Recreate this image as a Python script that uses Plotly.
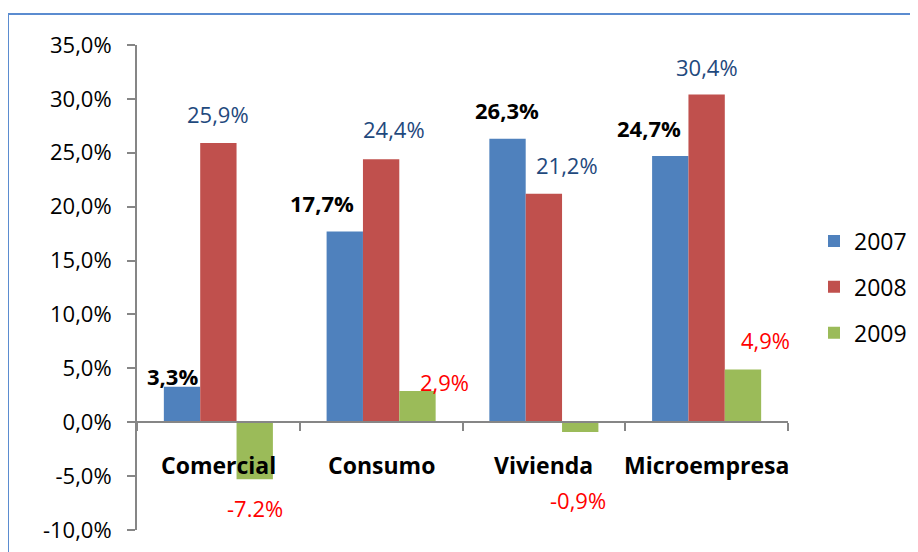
import plotly.graph_objects as go

categories = ["Comercial", "Consumo", "Vivienda", "Microempresa"]
years = ["2007", "2008", "2009"]
v2007 = [3.3, 17.7, 26.3, 24.7]
v2008 = [25.9, 24.4, 21.2, 30.4]
v2009 = [-5.3, 2.9, -0.9, 4.9]
lab2007 = ["3,3%", "17,7%", "26,3%", "24,7%"]
lab2008 = ["25,9%", "24,4%", "21,2%", "30,4%"]
lab2009 = ["-7.2%", "2,9%", "-0,9%", "4,9%"]
y_ticks = [-10, -5, 0, 5, 10, 15, 20, 25, 30, 35]
y_ticktext = [f"{v:.1f}".replace(".", ",") + "%" for v in y_ticks]

colors = ["#4F81BD", "#C0504D", "#9BBB59"]
FONT = "Open Sans"
FS = 22

# figure geometry (page adds an 8px body margin)
W, H = 910, 544
ML, MT = 129, 37
PW, PH = 651, 485
paper_w, paper_h = W - ML, H - MT

fig = go.Figure()
for i, (yr, vals) in enumerate(zip(years, [v2007, v2008, v2009])):
    fig.add_trace(go.Bar(x=categories, y=vals, name=yr, marker_color=colors[i],
                         marker_line_width=0, legendgroup=yr))

ymin, ymax = -10, 35
# data label offsets in pixels (xshift, yshift)
off2007 = [(-10, 11), (-23, 28), (-1, 29), (-21, 28)]
off2008 = [(0, 29), (13, 30), (23, 29), (0, 28)]
off2009 = [(0, -29), (27, 9), (-2, -68), (23, 29)]
bar_w = 1 / 3 * (1 - 0.33)
xs = {0: -bar_w, 1: 0, 2: bar_w}
for k, (labs, vals, offs, col, bold) in enumerate([
        (lab2007, v2007, off2007, "black", True),
        (lab2008, v2008, off2008, "#1F497D", False),
        (lab2009, v2009, off2009, "#FF0000", False)]):
    for j in range(4):
        txt = f"<b>{labs[j]}</b>" if bold else labs[j]
        fig.add_annotation(x=j + xs[k], y=vals[j], xref="x", yref="y", text=txt,
                           showarrow=False, xshift=offs[j][0], yshift=offs[j][1],
                           font=dict(family=FONT, size=FS, color=col))

for j, c in enumerate(categories):
    fig.add_annotation(x=j, y=-4, xref="x", yref="y", text=f"<b>{c}</b>",
                       showarrow=False, font=dict(family=FONT, size=23, color="black"))

# outer border (left/top visible, right/bottom beyond the page)
fig.add_shape(type="rect", xref="paper", yref="paper",
              x0=-ML / paper_w, x1=1.1, y0=-0.05, y1=(H - 6) / paper_h,
              line=dict(color="#5B8CD0", width=2), fillcolor="rgba(0,0,0,0)")

fig.update_layout(
    width=W, height=H,
    margin=dict(l=ML, r=0, t=MT, b=0, autoexpand=False),
    paper_bgcolor="white", plot_bgcolor="white",
    barmode="group", bargap=0.33, bargroupgap=0,
    font=dict(family=FONT, size=FS, color="black"),
    showlegend=True,
    legend=dict(x=(806 - ML) / paper_w, y=(552 - 287) / paper_h, yanchor="middle",
                xanchor="left", font=dict(family=FONT, size=23), tracegroupgap=13,
                bgcolor="rgba(0,0,0,0)"),
    xaxis=dict(type="category", range=[-0.5, 3.5], domain=[0, PW / paper_w],
               anchor="free", position=(H - MT - PH) / paper_h + PH / paper_h * (0 - ymin) / (ymax - ymin),
               showline=True, linecolor="#868686", linewidth=2,
               ticks="outside", tickson="boundaries", ticklen=8, tickcolor="#868686",
               tickwidth=2, showticklabels=False, showgrid=False, zeroline=False,
               automargin=False),
    yaxis=dict(range=[ymin, ymax], domain=[(H - MT - PH) / paper_h, 1],
               tickvals=y_ticks, ticktext=y_ticktext,
               showline=True, linecolor="#868686", linewidth=2,
               ticks="outside", ticklen=8, tickcolor="#868686", tickwidth=2,
               showgrid=False, zeroline=False, ticklabelstandoff=11, automargin=False,
               tickfont=dict(family=FONT, size=FS, color="black")),
)

fig.write_html("out.html")
